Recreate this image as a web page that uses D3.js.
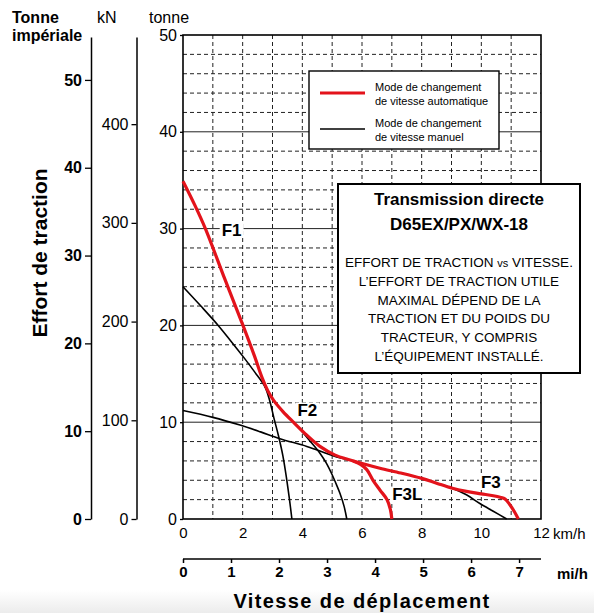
<!DOCTYPE html>
<html>
<head>
<meta charset="utf-8">
<title>Effort de traction</title>
<script src="https://cdn.jsdelivr.net/npm/d3@7"></script>
<style>
  body { margin: 0; background: #fff; }
  svg { display: block; font-family: "Liberation Sans", Arial, Helvetica, sans-serif; }
</style>
</head>
<body>
<div id="chart"></div>
<script>
// ticks
var kmhTicks = [0, 2, 4, 6, 8, 10, 12];
var mphTicks = [0, 1, 2, 3, 4, 5, 6, 7];
var tonneTicks = [0, 10, 20, 30, 40, 50];
var knTicks = [0, 100, 200, 300, 400];
var impTicks = [0, 10, 20, 30, 40, 50];

// curves: [km/h, tonne]
var autoMain = [[0,34.9],[0.4,32.4],[0.75,30],[1.4,24.8],[2.01,20],[2.4,16.8],[2.65,14.6],[2.85,13.2],
  [3.05,12.2],[3.35,11.1],[3.7,10.0],[4.1,8.8],[4.59,7.5],[5.1,6.6],[5.6,6.1],[6.1,5.65],[6.6,5.24],
  [7.3,4.75],[8.0,4.2],[8.5,3.7],[9.0,3.2],[9.5,2.85],[10.0,2.6],[10.4,2.4],[10.63,2.24],[10.8,2.05],
  [10.95,1.5],[11.1,0.8],[11.24,0]];
var autoF3L = [[5.7,6.0],[5.95,5.65],[6.16,5.1],[6.37,4.0],[6.6,3.0],[6.84,2.0],[6.95,1.0],[7.0,0]];
var manF1 = [[0,24.0],[0.6,22.0],[1.18,20.0],[1.6,18.4],[2.01,16.8],[2.4,15.2],[2.74,13.7],[2.9,12.3],
  [3.05,10.4],[3.2,8.6],[3.35,6.5],[3.48,4.0],[3.57,2.0],[3.65,0]];
var manF2 = [[2.74,13.7],[2.85,13.2],[3.05,12.2],[3.35,11.1],[3.7,10.0],[4.03,8.9],[4.3,7.9],[4.59,6.8],
  [4.8,5.8],[4.98,4.7],[5.15,3.5],[5.26,2.65],[5.4,1.3],[5.49,0]];
var manF3 = [[0,11.2],[1.0,10.5],[1.91,9.7],[2.6,9.0],[3.25,8.3],[4.15,7.5],[4.7,6.9],[5.15,6.4],
  [5.6,6.1],[6.1,5.65],[6.6,5.24],[7.3,4.75],[8.0,4.2],[8.5,3.7],[9.0,3.2],[9.5,2.5],[9.95,1.6],
  [10.4,0.8],[10.85,0]];

var gearNames = ["F1", "F2", "F3L", "F3"];
var gearAt = [[1.63,29.8],[4.17,11.26],[7.52,2.58],[10.32,3.77]];

var legendNames = [["Mode de changement", "de vitesse automatique"], ["Mode de changement", "de vitesse manuel"]];
var boxTitle = ["Transmission directe", "D65EX/PX/WX-18"];
var boxLines = ["EFFORT DE TRACTION vs VITESSE.", "L\u2019EFFORT DE TRACTION UTILE", "MAXIMAL D\u00c9PEND DE LA",
  "TRACTION ET DU POIDS DU", "TRACTEUR, Y COMPRIS", "L\u2019\u00c9QUIPEMENT INSTALL\u00c9."];

var RED = "#e3131b";

var svg = d3.select("#chart").append("svg")
  .attr("width", 594)
  .attr("height", 613);

var x = d3.scaleLinear().domain([0, 12]).range([183, 541]);
var y = d3.scaleLinear().domain([0, 50]).range([519, 35]);
var topT = y.invert(37);
var yImp = d3.scaleLinear().domain([0, topT / 0.90718474]).range([519, 37]);
var yKn = d3.scaleLinear().domain([0, topT * 9.80665]).range([519, 37]);
var xMi = d3.scaleLinear().domain([0, 12 / 1.609344]).range([183, 541]);

// faint grey band at bottom of the photo
var grad = svg.append("defs").append("linearGradient").attr("id", "fade")
  .attr("x1", 0).attr("y1", 0).attr("x2", 0).attr("y2", 1);
grad.append("stop").attr("offset", 0).attr("stop-color", "#fff");
grad.append("stop").attr("offset", 1).attr("stop-color", "#ececec");
svg.append("rect").attr("x", 0).attr("y", 590).attr("width", 594).attr("height", 23).attr("fill", "url(#fade)");

// grid
var g = svg.append("g");
g.selectAll(".vg").data(d3.range(1, 12)).enter().append("line")
  .attr("x1", d => x(d)).attr("x2", d => x(d))
  .attr("y1", y(50)).attr("y2", y(0))
  .attr("stroke", "#222").attr("stroke-width", 1).attr("stroke-dasharray", "4,3");
g.selectAll(".hg").data(d3.range(2, 50, 2)).enter().append("line")
  .attr("x1", x(0)).attr("x2", x(12))
  .attr("y1", d => y(d)).attr("y2", d => y(d))
  .attr("stroke", "#222").attr("stroke-width", 1)
  .attr("stroke-dasharray", d => d % 10 === 0 ? null : "4,3");
g.append("rect").attr("x", x(0)).attr("y", y(50)).attr("width", x(12) - x(0)).attr("height", y(0) - y(50))
  .attr("fill", "none").attr("stroke", "#000").attr("stroke-width", 1.6);

// left axes
function leftAxis(scale, ticks, xPos, size, bold) {
  var a = svg.append("g").attr("transform", "translate(" + xPos + ",0)")
    .call(d3.axisLeft(scale).tickValues(ticks).tickSize(size).tickSizeOuter(0).tickPadding(3));
  a.select(".domain").attr("stroke", "#000").attr("stroke-width", 1.5);
  a.selectAll(".tick line").attr("stroke", "#000").attr("stroke-width", 1.3);
  a.selectAll("text").attr("font-size", 16).attr("font-family", null)
    .attr("font-weight", bold ? "bold" : null).attr("fill", "#000");
  return a;
}
leftAxis(yImp, impTicks, 91, 6, true);
leftAxis(yKn, knTicks, 136.5, 5, false);
var ta = leftAxis(y, tonneTicks, 183, 3, false);
ta.select(".domain").remove();

svg.append("text").attr("x", 12).attr("y", 23).attr("font-size", 16).attr("font-weight", "bold").text("Tonne");
svg.append("text").attr("x", 12).attr("y", 41).attr("font-size", 16).attr("font-weight", "bold").text("imp\u00e9riale");
svg.append("text").attr("x", 97).attr("y", 23).attr("font-size", 16).text("kN");
svg.append("text").attr("x", 149).attr("y", 23).attr("font-size", 16).text("tonne");
svg.append("text").attr("transform", "translate(47,253) rotate(-90)")
  .attr("text-anchor", "middle").attr("font-size", 21).attr("font-weight", "bold").text("Effort de traction");

// km/h axis
var xa = svg.append("g").attr("transform", "translate(0," + y(0) + ")")
  .call(d3.axisBottom(x).tickValues(kmhTicks).tickSize(0).tickPadding(8));
xa.select(".domain").remove();
xa.selectAll("text").attr("font-size", 15).attr("font-family", null).attr("fill", "#000");
svg.append("text").attr("x", x(12) + 12).attr("y", 539).attr("font-size", 15).text("km/h");

// mi/h axis
var ma = svg.append("g").attr("transform", "translate(0,559)")
  .call(d3.axisBottom(xMi).tickValues(mphTicks).tickSize(4).tickSizeOuter(0).tickPadding(3));
ma.select(".domain").attr("stroke", "#000").attr("stroke-width", 1.5).attr("d", "M183,0H541");
ma.selectAll(".tick line").attr("stroke", "#000").attr("stroke-width", 1.5);
ma.selectAll("text").attr("font-size", 15).attr("font-weight", "bold").attr("font-family", null).attr("fill", "#000");
svg.append("text").attr("x", 557).attr("y", 579).attr("font-size", 15).attr("font-weight", "bold").text("mi/h");

svg.append("text").attr("x", 362).attr("y", 608).attr("text-anchor", "middle")
  .attr("font-size", 20).attr("font-weight", "bold").attr("letter-spacing", 1.4).text("Vitesse de d\u00e9placement");

// curves
var line = d3.line().x(d => x(d[0])).y(d => y(d[1])).curve(d3.curveCatmullRom.alpha(0.5));
[manF1, manF2, manF3].forEach(function (s) {
  svg.append("path").attr("d", line(s)).attr("fill", "none").attr("stroke", "#000").attr("stroke-width", 1.6);
});
[autoMain, autoF3L].forEach(function (s) {
  svg.append("path").attr("d", line(s)).attr("fill", "none").attr("stroke", RED).attr("stroke-width", 3.2)
    .attr("stroke-linejoin", "round");
});

// gear labels
gearNames.forEach(function (n, i) {
  var t = svg.append("text").attr("x", x(gearAt[i][0])).attr("y", y(gearAt[i][1]))
    .attr("text-anchor", "middle").attr("dominant-baseline", "central")
    .attr("font-size", 17).attr("font-weight", "bold").text(n);
  var b = t.node().getBBox();
  svg.insert("rect", function () { return t.node(); })
    .attr("x", b.x - 2).attr("y", b.y + 2).attr("width", b.width + 4).attr("height", b.height - 4).attr("fill", "#fff");
});

// legend
var lg = svg.append("g");
lg.append("rect").attr("x", 309).attr("y", 71).attr("width", 190).attr("height", 78)
  .attr("fill", "#fff").attr("stroke", "#000").attr("stroke-width", 1.4);
legendNames.forEach(function (l, i) {
  var yy = 93 + i * 36;
  lg.append("line").attr("x1", 320).attr("x2", 365).attr("y1", yy).attr("y2", yy)
    .attr("stroke", i === 0 ? RED : "#000").attr("stroke-width", i === 0 ? 3.2 : 1.6);
  l.forEach(function (s, j) {
    lg.append("text").attr("x", 375).attr("y", yy - 2 + j * 13.5).attr("font-size", 11).text(s);
  });
});

// note box
var nb = svg.append("g");
nb.append("rect").attr("x", 338).attr("y", 184).attr("width", 242).attr("height", 189)
  .attr("fill", "#fff").attr("stroke", "#000").attr("stroke-width", 2);
boxTitle.forEach(function (s, i) {
  nb.append("text").attr("x", 459).attr("y", 205 + i * 25).attr("text-anchor", "middle")
    .attr("font-size", 17).attr("font-weight", "bold").text(s);
});
boxLines.forEach(function (s, i) {
  var t = nb.append("text").attr("x", 459).attr("y", 267 + i * 18.8).attr("text-anchor", "middle").attr("font-size", 13.5);
  if (i === 0) {
    t.append("tspan").text("EFFORT DE TRACTION ");
    t.append("tspan").attr("font-size", 11).text("vs");
    t.append("tspan").text(" VITESSE.");
  } else {
    t.text(s);
  }
});
</script>
</body>
</html>
